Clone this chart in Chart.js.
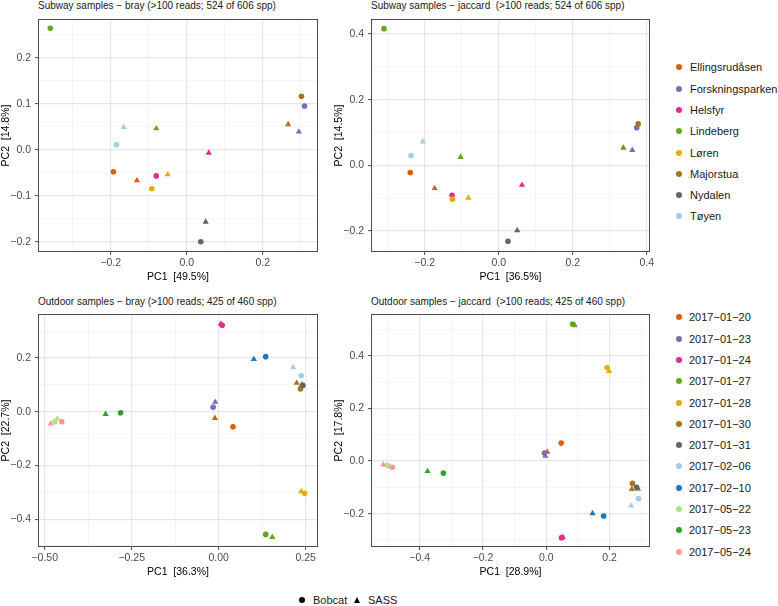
<!DOCTYPE html>
<html>
<head>
<meta charset="utf-8">
<script src="https://cdn.jsdelivr.net/npm/chart.js@4"></script>
<style>
  body { margin: 0; background: #fff; font-family: "Liberation Sans", Arial, sans-serif; }
  #wrap { position: relative; width: 778px; height: 606px; overflow: hidden; background: #fff; }
  canvas { position: absolute; }
  .title { position: absolute; font-size: 10px; color: #1a1a1a; white-space: pre; line-height: 12px; }
  .leg { position: absolute; font-size: 11px; color: #1a1a1a; line-height: 14px; white-space: pre; }
  .dot { position: absolute; width: 6px; height: 6px; border-radius: 50%; }
  .tri { position: absolute; width: 0; height: 0; border-left: 3.5px solid transparent; border-right: 3.5px solid transparent; border-bottom: 6px solid #000; }
</style>
</head>
<body>
<div id="wrap">
  <canvas id="c1" width="324" height="276" style="left:0px;top:14px"></canvas>
  <canvas id="c2" width="323" height="276" style="left:333px;top:14px"></canvas>
  <canvas id="c3" width="324" height="276" style="left:0px;top:309px"></canvas>
  <canvas id="c4" width="323" height="276" style="left:333px;top:309px"></canvas>
</div>
<script>
// subway sites
const subwaySites = ['Ellingsrudåsen', 'Forskningsparken', 'Helsfyr', 'Lindeberg', 'Løren', 'Majorstua', 'Nydalen', 'Tøyen'];
const siteColors = ['#D95F02', '#7570B3', '#E7298A', '#66A61E', '#E6AB02', '#A6761D', '#666666', '#A6CEE3'];

// subway - bray
const brayBobcatPC1 = [-0.193, 0.310, -0.080, -0.359, -0.092, 0.302, 0.037, -0.185];
const brayBobcatPC2 = [-0.048, 0.095, -0.057, 0.264, -0.085, 0.116, -0.200, 0.011];
const braySassPC1 = [-0.131, 0.295, 0.058, -0.080, -0.050, 0.267, 0.050, -0.166];
const braySassPC2 = [-0.067, 0.039, -0.007, 0.046, -0.054, 0.055, -0.157, 0.049];

// subway - jaccard
const jacBobcatPC1 = [-0.239, 0.373, -0.126, -0.310, -0.125, 0.377, 0.025, -0.237];
const jacBobcatPC2 = [-0.022, 0.114, -0.091, 0.416, -0.103, 0.126, -0.231, 0.030];
const jacSassPC1 = [-0.173, 0.361, 0.063, -0.103, -0.082, 0.337, 0.050, -0.205];
const jacSassPC2 = [-0.070, 0.046, -0.060, 0.025, -0.099, 0.053, -0.198, 0.072];

// outdoor dates
const outdoorDates = ['2017−01−20', '2017−01−23', '2017−01−24', '2017−01−27', '2017−01−28', '2017−01−30',
  '2017−01−31', '2017−02−06', '2017−02−10', '2017−05−22', '2017−05−23', '2017−05−24'];
const dateColors = ['#D95F02', '#7570B3', '#E7298A', '#66A61E', '#E6AB02', '#A6761D',
  '#666666', '#A6CEE3', '#1F78B4', '#B2DF8A', '#33A02C', '#FB9A99'];

// outdoor - bray
const outBrayBobcatPC1 = [0.041, -0.016, 0.010, 0.135, 0.247, 0.235, 0.242, 0.237, 0.135, -0.471, -0.282, -0.451];
const outBrayBobcatPC2 = [-0.056, 0.017, 0.322, -0.457, -0.304, 0.085, 0.098, 0.134, 0.205, -0.037, -0.004, -0.037];
const outBraySassPC1 = [-0.011, -0.010, 0.006, 0.154, 0.237, 0.224, 0.239, 0.214, 0.101, -0.464, -0.325, -0.483];
const outBraySassPC2 = [-0.024, 0.036, 0.327, -0.467, -0.297, 0.107, 0.101, 0.165, 0.196, -0.026, -0.009, -0.045];

// outdoor - jaccard
const outJacBobcatPC1 = [0.047, -0.006, 0.048, 0.083, 0.192, 0.272, 0.285, 0.291, 0.181, -0.499, -0.325, -0.486];
const outJacBobcatPC2 = [0.068, 0.030, -0.291, 0.520, 0.354, -0.085, -0.100, -0.143, -0.209, -0.018, -0.046, -0.024];
const outJacSassPC1 = [0.003, -0.003, 0.052, 0.090, 0.198, 0.270, 0.289, 0.268, 0.146, -0.505, -0.375, -0.515];
const outJacSassPC2 = [0.034, 0.019, -0.289, 0.515, 0.341, -0.107, -0.105, -0.170, -0.199, -0.016, -0.039, -0.014];

// tick labels (major) and minor grid positions
const brayXMajor = [-0.2, 0, 0.2], brayXMinor = [-0.3, -0.1, 0.1, 0.3];
const brayYMajor = [-0.2, -0.1, 0, 0.1, 0.2], brayYMinor = [-0.15, -0.05, 0.05, 0.15, 0.25];
const jacXMajor = [-0.2, 0, 0.2, 0.4], jacXMinor = [-0.3, -0.1, 0.1, 0.3];
const jacYMajor = [-0.2, 0, 0.2, 0.4], jacYMinor = [-0.1, 0.1, 0.3];
const outBrayXMajor = [-0.5, -0.25, 0, 0.25], outBrayXMinor = [-0.375, -0.125, 0.125];
const outBrayYMajor = [-0.4, -0.2, 0, 0.2], outBrayYMinor = [-0.5, -0.3, -0.1, 0.1, 0.3];
const outJacXMajor = [-0.4, -0.2, 0, 0.2], outJacXMinor = [-0.5, -0.3, -0.1, 0.1, 0.3];
const outJacYMajor = [-0.2, 0, 0.2, 0.4], outJacYMinor = [-0.3, -0.1, 0.1, 0.3, 0.5];

const FONT = '"Liberation Sans", Arial, sans-serif';

function fmt(v, d) {
  return v.toFixed(d).replace('-', '\u2212');
}

const framePlugin = {
  id: 'frame',
  afterDraw(chart) {
    const { ctx, chartArea: a } = chart;
    ctx.save();
    ctx.strokeStyle = '#4d4d4d';
    ctx.lineWidth = 1;
    ctx.strokeRect(a.left + 0.5, a.top + 0.5, a.right - a.left - 1, a.bottom - a.top - 1);
    ctx.restore();
  }
};

function makeAxis(horizontal, min, max, majors, minors, decimals, title) {
  const all = majors.map(v => ({ value: v, isMajor: true }))
    .concat(minors.map(v => ({ value: v, isMajor: false })))
    .sort((a, b) => a.value - b.value);
  return {
    type: 'linear',
    position: horizontal ? 'bottom' : 'left',
    min: min,
    max: max,
    afterBuildTicks: s => { s.ticks = all.map(t => ({ value: t.value, isMajor: t.isMajor })); },
    afterFit: s => {
      if (horizontal) { s.height = 38; s.paddingLeft = 0; s.paddingRight = 0; }
      else { s.width = 38; s.paddingTop = 0; s.paddingBottom = 0; }
    },
    ticks: {
      autoSkip: false,
      maxRotation: 0,
      padding: horizontal ? 2 : 4,
      color: '#4d4d4d',
      font: { family: FONT, size: 10.5 },
      callback: (v, i, t) => t[i].isMajor ? fmt(v, decimals) : ''
    },
    grid: {
      color: c => (c.tick && c.tick.isMajor) ? '#e6e6e6' : '#f0f0f0',
      lineWidth: c => (c.tick && c.tick.isMajor) ? 1.2 : 0.7,
      tickLength: 3,
      tickWidth: 1,
      tickColor: c => (c.tick && c.tick.isMajor) ? '#4d4d4d' : 'rgba(0,0,0,0)'
    },
    border: { display: false },
    title: {
      display: true,
      text: title,
      color: '#000',
      font: { family: FONT, size: 10.5, lineHeight: 1.2 },
      padding: { top: 0, bottom: 7 }
    }
  };
}

function points(xs, ys) {
  return xs.map((x, i) => ({ x: x, y: ys[i] }));
}

function makePanel(id, colors, bobX, bobY, sasX, sasY, xAxis, yAxis) {
  new Chart(document.getElementById(id), {
    type: 'scatter',
    data: {
      datasets: [{
        label: 'Bobcat',
        data: points(bobX, bobY),
        pointStyle: 'circle',
        pointRadius: 2.8,
        pointBorderWidth: 0,
        pointBackgroundColor: colors,
        clip: false
      }, {
        label: 'SASS',
        data: points(sasX, sasY),
        pointStyle: 'triangle',
        pointRadius: 3.6,
        pointBorderWidth: 0,
        pointBackgroundColor: colors,
        clip: false
      }]
    },
    options: {
      responsive: false,
      animation: false,
      events: [],
      layout: { padding: { left: 0, top: 5, right: 6, bottom: 0 } },
      plugins: { legend: { display: false }, tooltip: { enabled: false } },
      scales: { x: xAxis, y: yAxis }
    },
    plugins: [framePlugin]
  });
}

makePanel('c1', siteColors, brayBobcatPC1, brayBobcatPC2, braySassPC1, braySassPC2,
  makeAxis(true, -0.3913, 0.3455, brayXMajor, brayXMinor, 1, 'PC1  [49.5%]'),
  makeAxis(false, -0.2224, 0.2841, brayYMajor, brayYMinor, 1, 'PC2  [14.8%]'));

makePanel('c2', siteColors, jacBobcatPC1, jacBobcatPC2, jacSassPC1, jacSassPC2,
  makeAxis(true, -0.3451, 0.4089, jacXMajor, jacXMinor, 1, 'PC1  [36.5%]'),
  makeAxis(false, -0.2639, 0.4454, jacYMajor, jacYMinor, 1, 'PC2  [14.5%]'));

makePanel('c3', dateColors, outBrayBobcatPC1, outBrayBobcatPC2, outBraySassPC1, outBraySassPC2,
  makeAxis(true, -0.5193, 0.2853, outBrayXMajor, outBrayXMinor, 2, 'PC1  [36.3%]'),
  makeAxis(false, -0.5039, 0.3639, outBrayYMajor, outBrayYMinor, 1, 'PC2  [22.7%]'));

makePanel('c4', dateColors, outJacBobcatPC1, outJacBobcatPC2, outJacSassPC1, outJacSassPC2,
  makeAxis(true, -0.5535, 0.3274, outJacXMajor, outJacXMinor, 1, 'PC1  [28.9%]'),
  makeAxis(false, -0.3266, 0.5583, outJacYMajor, outJacYMinor, 1, 'PC2  [17.8%]'));

// titles and legends (html text)
const wrap = document.getElementById('wrap');
function addText(cls, text, left, top) {
  const d = document.createElement('div');
  d.className = cls;
  d.textContent = text;
  d.style.left = left + 'px';
  d.style.top = top + 'px';
  wrap.appendChild(d);
}
function addDot(color, cx, cy) {
  const d = document.createElement('div');
  d.className = 'dot';
  d.style.background = color;
  d.style.left = (cx - 3) + 'px';
  d.style.top = (cy - 3) + 'px';
  wrap.appendChild(d);
}

addText('title', 'Subway samples − bray (>100 reads; 524 of 606 spp)', 38, 0);
addText('title', 'Subway samples − jaccard  (>100 reads; 524 of 606 spp)', 371, 0);
addText('title', 'Outdoor samples − bray (>100 reads; 425 of 460 spp)', 38, 296);
addText('title', 'Outdoor samples − jaccard  (>100 reads; 425 of 460 spp)', 371, 296);

subwaySites.forEach((s, i) => {
  const cy = 67.3 + i * 21.3;
  addDot(siteColors[i], 679, cy);
  addText('leg', s, 690, cy - 7);
});
outdoorDates.forEach((s, i) => {
  const cy = 317.3 + i * 21.3;
  addDot(dateColors[i], 679, cy);
  addText('leg', s, 689, cy - 7);
});

addDot('#000', 302, 600);
addText('leg', 'Bobcat', 313, 593);
const tri = document.createElement('div');
tri.className = 'tri';
tri.style.left = '354px';
tri.style.top = '597px';
wrap.appendChild(tri);
addText('leg', 'SASS', 368, 593);
</script>
</body>
</html>
